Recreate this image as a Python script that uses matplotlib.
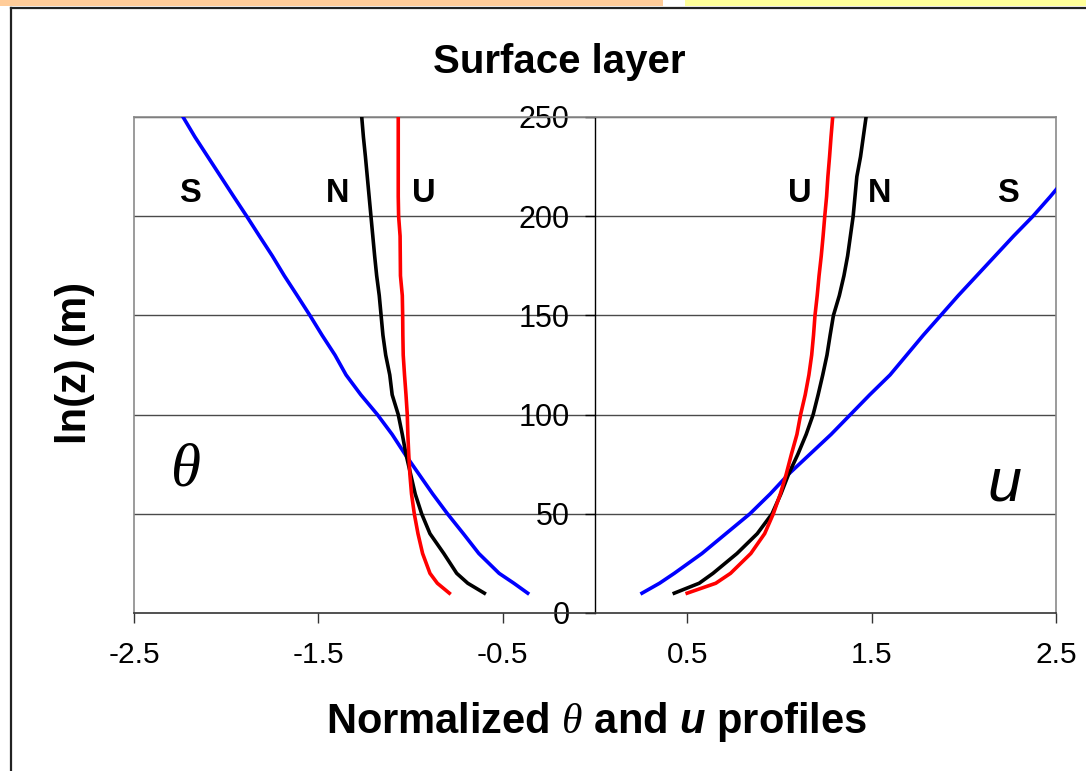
import matplotlib
matplotlib.use("Agg")
import matplotlib.pyplot as plt
from matplotlib.patches import Rectangle
from matplotlib.lines import Line2D

plt.rcParams["font.family"] = ["Liberation Sans", "DejaVu Sans"]
plt.rcParams["mathtext.fontset"] = "custom"
plt.rcParams["mathtext.it"] = "Liberation Serif:italic"
plt.rcParams["mathtext.bf"] = "Liberation Sans:bold:italic"
plt.rcParams["mathtext.rm"] = "Liberation Sans:bold"

# Heights of the profile levels
z = [10, 15, 20, 30, 40, 50, 60, 70, 80, 90, 100, 110, 120, 130, 140,
     150, 160, 170, 180, 190, 200, 210, 220, 230, 240, 250]

# Normalized potential temperature profiles (plotted on the negative side)
theta_S = [-0.365, -0.44, -0.52, -0.63, -0.714, -0.80, -0.88, -0.955, -1.03, -1.10,
           -1.18, -1.27, -1.35, -1.41, -1.48, -1.546, -1.615, -1.685, -1.75, -1.82,
           -1.889, -1.96, -2.03, -2.10, -2.17, -2.234]
theta_N = [-0.60, -0.69, -0.75, -0.82, -0.895, -0.94, -0.975, -1.00, -1.025, -1.045,
           -1.067, -1.10, -1.113, -1.135, -1.15, -1.16, -1.17, -1.184, -1.195, -1.205,
           -1.215, -1.225, -1.235, -1.245, -1.256, -1.265]
theta_U = [-0.79, -0.855, -0.895, -0.935, -0.96, -0.98, -0.995, -1.004, -1.01, -1.015,
           -1.018, -1.025, -1.033, -1.04, -1.042, -1.043, -1.045, -1.055, -1.056, -1.057,
           -1.065, -1.067, -1.067, -1.067, -1.067, -1.067]

# Normalized wind speed profiles
u_S = [0.255, 0.35, 0.43, 0.58, 0.71, 0.84, 0.95, 1.05, 1.165, 1.28,
       1.385, 1.49, 1.60, 1.69, 1.78, 1.875, 1.97, 2.07, 2.17, 2.27,
       2.375, 2.47, 2.56]
u_N = [0.43, 0.565, 0.64, 0.77, 0.88, 0.96, 1.008, 1.05, 1.10, 1.145,
       1.183, 1.21, 1.235, 1.258, 1.275, 1.293, 1.325, 1.35, 1.37, 1.385,
       1.40, 1.41, 1.42, 1.44, 1.455, 1.47]
u_U = [0.50, 0.655, 0.735, 0.845, 0.92, 0.967, 1.005, 1.037, 1.065, 1.095,
       1.115, 1.14, 1.16, 1.175, 1.185, 1.193, 1.205, 1.215, 1.227, 1.237,
       1.246, 1.256, 1.263, 1.272, 1.28, 1.289]

x_ticks = [-2.5, -1.5, -0.5, 0.5, 1.5, 2.5]
x_tick_labels = ["-2.5", "-1.5", "-0.5", "0.5", "1.5", "2.5"]
y_ticks = [0, 50, 100, 150, 200, 250]

# Stability class tags and their positions
tags = ["S", "N", "U", "U", "N", "S"]
tag_x = [-2.196, -1.394, -0.927, 1.112, 1.546, 2.24]
tag_y = 211.2

W, H = 1086, 771
fig = plt.figure(figsize=(W / 100, H / 100), dpi=100)

# Slide decoration: coloured strips and frame
fig.add_artist(Rectangle((0, 1 - 6 / H), 663 / W, 6 / H, transform=fig.transFigure,
                         facecolor="#FFCC99", edgecolor="none"))
fig.add_artist(Rectangle((685 / W, 1 - 6 / H), (W - 685) / W, 6 / H, transform=fig.transFigure,
                         facecolor="#FFFF99", edgecolor="none"))
fig.add_artist(Line2D([10.5 / W, 10.5 / W], [0, 1 - 8 / H], transform=fig.transFigure,
                      color="#222222", lw=1.6))
fig.add_artist(Line2D([10.5 / W, 1], [1 - 8 / H, 1 - 8 / H], transform=fig.transFigure,
                      color="#222222", lw=1.6))

ax = fig.add_axes([134 / W, 1 - 613 / H, (1056 - 134) / W, (613 - 117) / H])
ax.set_xlim(-2.5, 2.5)
ax.set_ylim(0, 250)

for yv in y_ticks[1:]:
    ax.axhline(yv, color="#4a4a4a", lw=1.0, zorder=1)

lw = 2.6
ax.plot(theta_S, z, color="#0000FF", lw=lw, zorder=3)
ax.plot(theta_N, z, color="#000000", lw=lw, zorder=3)
ax.plot(theta_U, z, color="#FF0000", lw=lw, zorder=3)
ax.plot(u_S, z[:len(u_S)], color="#0000FF", lw=lw, zorder=3)
ax.plot(u_N, z, color="#000000", lw=lw, zorder=3)
ax.plot(u_U, z, color="#FF0000", lw=lw, zorder=3)

# Axis frame: gray border, y axis through zero
ax.spines["left"].set_position(("data", 0))
ax.spines["left"].set_color("black")
ax.spines["left"].set_linewidth(1.0)
ax.spines["top"].set_color("#8a8a8a")
ax.spines["right"].set_color("#8a8a8a")
ax.spines["top"].set_linewidth(1.2)
ax.spines["right"].set_linewidth(1.2)
ax.spines["bottom"].set_color("#333333")
ax.spines["bottom"].set_linewidth(1.2)
ax.add_line(Line2D([0, 0], [0, 1], transform=ax.transAxes, color="#8a8a8a", lw=1.2,
                   clip_on=False))

ax.set_xticks(x_ticks)
ax.set_xticklabels(x_tick_labels)
ax.set_yticks(y_ticks)
ax.tick_params(axis="x", direction="out", length=7.2, width=1.0, color="#333333",
               labelsize=21.5, pad=13)
ax.tick_params(axis="y", direction="out", length=7.2, width=1.0, color="black",
               labelsize=22, pad=11)

fs_tag = 23.5
for t, xv in zip(tags, tag_x):
    ax.text(xv, tag_y, t, fontsize=fs_tag, fontweight="bold", ha="center", va="center",
            zorder=4)

ax.text(-2.223, 72, r"$\theta$", fontsize=44, ha="center", va="center", zorder=4)
ax.text(2.223, 64.5, "u", fontsize=44, style="italic", ha="center", va="center", zorder=4)

fig.text(559 / W, 1 - 62 / H, "Surface layer", fontsize=29, fontweight="bold",
         ha="center", va="center")
fig.text(75 / W, 1 - 363 / H, "ln(z) (m)", fontsize=30, fontweight="bold",
         rotation=90, ha="center", va="center")
fig.text(597 / W, 1 - 722 / H, r"Normalized $\theta$ and $\mathbf{u}$ profiles",
         fontsize=30, fontweight="bold", ha="center", va="center")

fig.savefig("out.png", dpi=100)
